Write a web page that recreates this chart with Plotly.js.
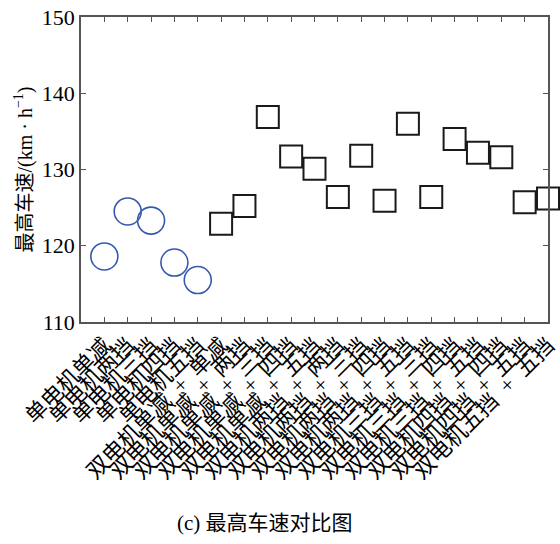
<!DOCTYPE html>
<html><head><meta charset="utf-8">
<script src="https://cdn.plot.ly/plotly-3.0.1.min.js"></script>
<style>html,body{margin:0;padding:0;background:#fff}</style>
</head><body><div id="chart" style="width:560px;height:544px"></div>
<script>
var categories = ["单电机单减","单电机两挡","单电机三挡","单电机四挡","单电机五挡",
  "双电机单减+单减","双电机单减+两挡","双电机单减+三挡","双电机单减+四挡","双电机单减+五挡",
  "双电机两挡+两挡","双电机两挡+三挡","双电机两挡+四挡","双电机两挡+五挡",
  "双电机三挡+三挡","双电机三挡+四挡","双电机三挡+五挡",
  "双电机四挡+四挡","双电机四挡+五挡","双电机五挡+五挡"];
var singleCats = categories.slice(0,5);
var singleSpeed = [118.6,124.5,123.3,117.8,115.5];
var dualCats = categories.slice(5);
var dualSpeed = [122.9,125.2,136.9,131.7,130.1,126.4,131.8,125.9,136.0,126.4,134.0,132.2,131.6,125.7,126.2];
var yTicks = [110,120,130,140,150];

var serif = "Liberation Serif, 'Noto Sans CJK SC', serif";
var tickText = categories.map(function(c){ return c.replace('+', '\u2002+\u2002'); });
var traces = [
  {x: singleCats, y: singleSpeed, type:'scatter', mode:'markers', cliponaxis:false,
   marker:{symbol:'circle-open', size:27, color:'#3558b0', line:{width:1.6}}},
  {x: dualCats, y: dualSpeed, type:'scatter', mode:'markers', cliponaxis:false,
   marker:{symbol:'square-open', size:22, color:'#1a1a1a', line:{width:2}}}
];
var layout = {
  width:560, height:544, showlegend:false,
  margin:{l:81, r:12, t:17, b:222},
  paper_bgcolor:'#fff', plot_bgcolor:'#fff',
  font:{family:serif, color:'#000'},
  xaxis:{type:'category', categoryorder:'array', categoryarray:categories,
    tickmode:'array', tickvals:categories, ticktext:tickText,
    range:[-1,19], showgrid:false, zeroline:false, showline:true, mirror:'ticks',
    linecolor:'#555', linewidth:1.5, ticks:'inside', ticklen:5, tickcolor:'#555',
    tickangle:-45, tickfont:{size:22, family:serif, color:'#000'}},
  yaxis:{range:[110,150], tickvals:yTicks, showgrid:false, zeroline:false, showline:true,
    mirror:'ticks', linecolor:'#555', linewidth:1.5, ticks:'inside', ticklen:5, tickcolor:'#555',
    tickfont:{size:22, family:serif, color:'#000'},
    title:{text:'最高车速/(km · h<sup>−1</sup>)', font:{size:20, family:serif, color:'#000'}, standoff:4}},
  annotations:[{text:'(c) 最高车速对比图', xref:'paper', yref:'paper', x:0.394, y:-0.66,
    xanchor:'center', yanchor:'middle', showarrow:false, font:{size:21, family:serif, color:'#000'}}]
};
Plotly.newPlot('chart', traces, layout, {displayModeBar:false});
</script></body></html>
